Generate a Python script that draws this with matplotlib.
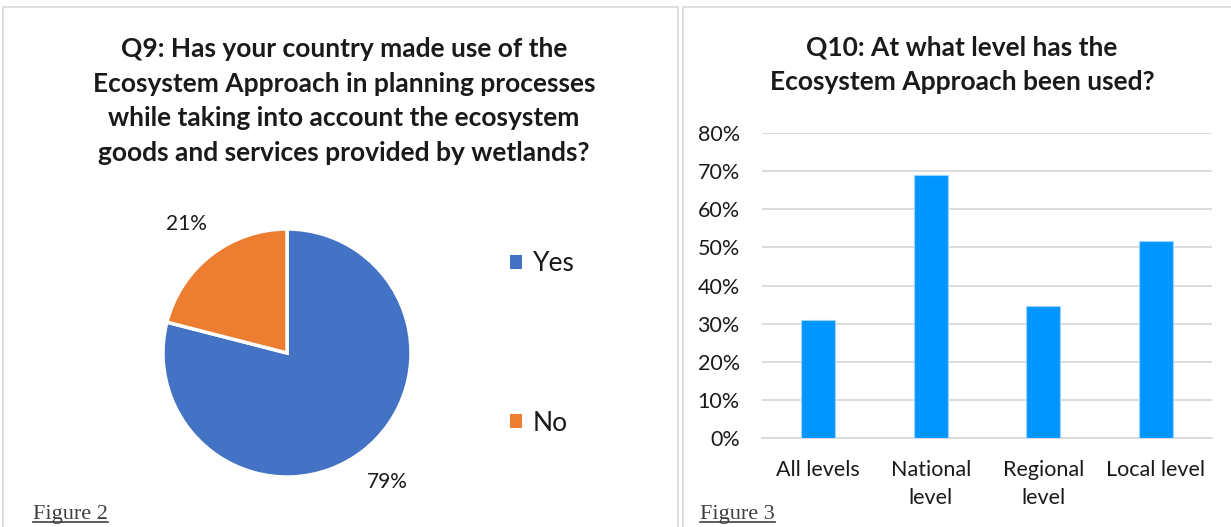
import matplotlib.pyplot as plt
from matplotlib.patches import Rectangle, Patch
from matplotlib.lines import Line2D
from matplotlib.ticker import PercentFormatter

# Q9 pie data
pie_labels = ["Yes", "No"]
pie_values = [79, 21]
pie_colors = ["#4472C4", "#ED7D31"]

# Q10 bar data
bar_labels = ["All levels", "National\nlevel", "Regional\nlevel", "Local level"]
bar_values = [0.310, 0.690, 0.345, 0.517]
bar_color = "#0096FF"

W, H = 1231, 527
fig = plt.figure(figsize=(W / 100, H / 100), dpi=100)
plt.rcParams['font.family'] = ['Lato', 'DejaVu Sans']
txt = "#1a1a1a"

def fx(px):
    return px / W

def fy(py):
    return 1 - py / H

# panel frames
for x0, x1 in [(3, 678), (683, 1240)]:
    fig.add_artist(Rectangle((fx(x0), fy(600)), fx(x1 - x0), (600 - 7) / H,
                             fill=False, ec="#D9D9D9", lw=1.2, transform=fig.transFigure))

# titles
fig.text(fx(344), fy(101), "Q9: Has your country made use of the\nEcosystem Approach in planning processes\n"
         "while taking into account the ecosystem\ngoods and services provided by wetlands?",
         ha="center", va="center", fontsize=19, fontweight="bold", color=txt, linespacing=1.53)
fig.text(fx(962), fy(65), "Q10: At what level has the\nEcosystem Approach been used?",
         ha="center", va="center", fontsize=19, fontweight="bold", color=txt, linespacing=1.53)

# pie
r = 124
ax1 = fig.add_axes([fx(287 - r), fy(353 + r), fx(2 * r), 2 * r / H])
wedges, texts = ax1.pie(pie_values, colors=pie_colors, startangle=90, counterclock=False,
                        wedgeprops=dict(edgecolor="white", linewidth=2.5),
                        labels=[f"{v}%" for v in pie_values], labeldistance=1.32,
                        textprops=dict(fontsize=15, color=txt, ha="center", va="center"))
ax1.set_xlim(-1, 1)
ax1.set_ylim(-1, 1)
ax1.set_aspect("equal")

handles = [Patch(facecolor=c, edgecolor="none") for c in pie_colors]
fig.legend(handles, pie_labels, loc="upper left", bbox_to_anchor=(fx(497), fy(238)),
           frameon=False, fontsize=19, handlelength=0.45, handleheight=0.45,
           handletextpad=0.4, labelspacing=5.1, labelcolor=txt, borderpad=0)

# bars
ax2 = fig.add_axes([fx(762), fy(438), fx(450), 305 / H])
ax2.bar(range(len(bar_values)), bar_values, width=0.30, color=bar_color,
        edgecolor="#9CD3FF", linewidth=0.8, zorder=3)
ax2.set_xlim(-0.5, len(bar_values) - 0.5)
ax2.set_ylim(0, 0.8)
ax2.set_yticks([i / 10 for i in range(9)])
ax2.yaxis.set_major_formatter(PercentFormatter(1.0, decimals=0))
ax2.set_xticks(range(len(bar_values)))
ax2.set_xticklabels(bar_labels, fontsize=15.5, color=txt, linespacing=1.5)
ax2.tick_params(axis="y", labelsize=15.5, labelcolor=txt, length=0, pad=16)
ax2.tick_params(axis="x", length=0, pad=16)
ax2.grid(axis="y", color="#D9D9D9", lw=1.3, zorder=0)
for s in ["top", "right", "left"]:
    ax2.spines[s].set_visible(False)
ax2.spines["bottom"].set_color("#D9D9D9")
ax2.spines["bottom"].set_linewidth(1.3)

# figure captions, underlined
caps = []
for x, s in [(33, "Figure 2"), (700, "Figure 3")]:
    caps.append(fig.text(fx(x), fy(519), s, family="Liberation Serif", fontsize=16,
                         color="#404040", ha="left", va="baseline"))
fig.canvas.draw()
for t in caps:
    bb = t.get_window_extent()
    fig.add_artist(Line2D([bb.x0 / W, bb.x1 / W], [fy(521.5), fy(521.5)],
                          color="#404040", lw=1.2, transform=fig.transFigure))

fig.savefig("out.png", dpi=100)
